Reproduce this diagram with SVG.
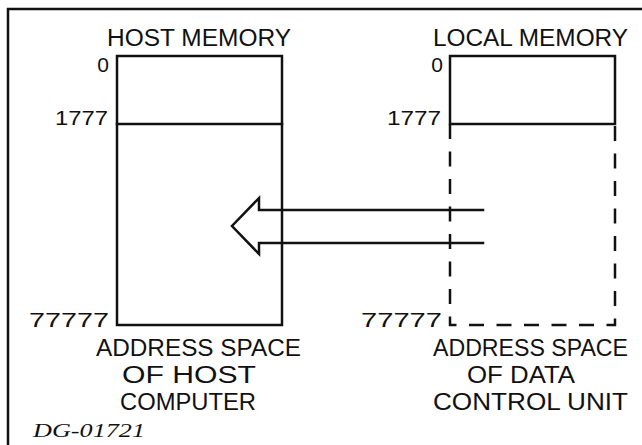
<svg xmlns="http://www.w3.org/2000/svg" width="642" height="445" viewBox="0 0 642 445">
<style>
.ln{fill:none;stroke:#111;stroke-width:2.5;stroke-linecap:square}
.ds{fill:none;stroke:#111;stroke-width:2.5;stroke-dasharray:15 12.5}
.t{font-family:"Liberation Sans",Arial,sans-serif;font-size:23px;fill:#111}
.n{font-family:"Liberation Sans",Arial,sans-serif;font-size:21px;fill:#111}
.dg{font-family:"Liberation Serif","Times New Roman",serif;font-style:italic;font-size:18px;fill:#111}
</style>
<rect width="642" height="445" fill="#fff"/>
<g id="frame"><path class="ln" d="M8,445 V9 H642"/></g>
<g id="host-memory">
<text class="t" x="107" y="46" textLength="184" lengthAdjust="spacingAndGlyphs">HOST  MEMORY</text>
<rect class="ln" x="117" y="56" width="165" height="269"/>
<line class="ln" x1="117" y1="124" x2="282" y2="124"/>
<text class="n" x="109" y="72" text-anchor="end">0</text>
<text class="n" x="55" y="125" textLength="53" lengthAdjust="spacingAndGlyphs">1777</text>
<text class="n" x="29" y="327" textLength="80" lengthAdjust="spacingAndGlyphs">77777</text>
<text class="t" x="96" y="356" textLength="205" lengthAdjust="spacingAndGlyphs">ADDRESS  SPACE</text>
<text class="t" x="122" y="383" textLength="134" lengthAdjust="spacingAndGlyphs">OF  HOST</text>
<text class="t" x="120" y="410" textLength="136" lengthAdjust="spacingAndGlyphs">COMPUTER</text>
</g>
<g id="local-memory">
<text class="t" x="433" y="46" textLength="195" lengthAdjust="spacingAndGlyphs">LOCAL  MEMORY</text>
<path class="ln" d="M450,124 V56 H615 V124 Z"/>
<path class="ds" d="M450,124 V325 H615 V124"/>
<text class="n" x="443" y="72" text-anchor="end">0</text>
<text class="n" x="387" y="125" textLength="54" lengthAdjust="spacingAndGlyphs">1777</text>
<text class="n" x="361" y="327" textLength="81" lengthAdjust="spacingAndGlyphs">77777</text>
<text class="t" x="433" y="356" textLength="195" lengthAdjust="spacingAndGlyphs">ADDRESS SPACE</text>
<text class="t" x="467" y="383" textLength="108" lengthAdjust="spacingAndGlyphs">OF DATA</text>
<text class="t" x="433" y="410" textLength="195" lengthAdjust="spacingAndGlyphs">CONTROL  UNIT</text>
</g>
<g id="connectors">
<path class="ln" stroke-linejoin="miter" d="M483,210 H259 V198 L232,226 L259,254 V243 H483"/>
</g>
<text class="dg" x="33" y="437" textLength="112" lengthAdjust="spacingAndGlyphs">DG-01721</text>
</svg>
